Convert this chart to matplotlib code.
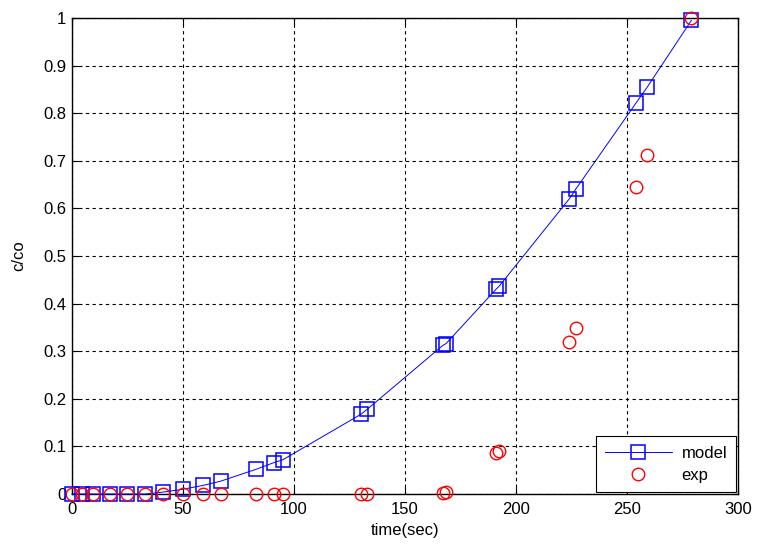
import matplotlib
matplotlib.use('Agg')
import matplotlib.pyplot as plt

# sample times (sec)
time = [0, 4.5, 9.5, 17, 25, 33, 41, 50, 59, 67, 83, 91, 95,
        130, 133, 167, 168.5, 191, 192.5, 224, 227, 254, 259, 279]

# model prediction c/co
model = [0, 0, 0, 0, 0, 0, 0.004, 0.01, 0.018, 0.027, 0.052, 0.066, 0.072,
         0.167, 0.178, 0.312, 0.316, 0.43, 0.437, 0.62, 0.641, 0.821, 0.854, 0.995]

# experimental c/co
exp = [0, 0, 0, 0, 0, 0, 0, 0, 0, 0, 0, 0, 0,
       0, 0, 0.002, 0.004, 0.086, 0.091, 0.319, 0.348, 0.645, 0.713, 0.999]

xticks = [0, 50, 100, 150, 200, 250, 300]
yticks = [0, 0.1, 0.2, 0.3, 0.4, 0.5, 0.6, 0.7, 0.8, 0.9, 1]
ytick_labels = ['0', '0.1', '0.2', '0.3', '0.4', '0.5', '0.6', '0.7', '0.8', '0.9', '1']

plt.rcParams['font.family'] = ['Liberation Sans', 'DejaVu Sans']

fig = plt.figure(figsize=(7.64, 5.53), dpi=100)
ax = fig.add_axes([0.0942, 0.1067, 0.8718, 0.8608])

ax.plot(time, model, color='#0000ff', linestyle='-', linewidth=0.7, marker='s',
        markersize=9.5, markerfacecolor='none', markeredgecolor='#0000ff',
        markeredgewidth=1.1, label='model', clip_on=False, zorder=3)
ax.plot(time, exp, color='#ff0000', linestyle='none', marker='o',
        markersize=9, markerfacecolor='none', markeredgecolor='#ff0000',
        markeredgewidth=1.0, label='exp', clip_on=False, zorder=3)

ax.set_xlim(0, 300)
ax.set_ylim(0, 1)
ax.set_xticks(xticks)
ax.set_yticks(yticks)
ax.set_yticklabels(ytick_labels)
ax.tick_params(direction='in', top=True, right=True, length=5, width=0.8,
               labelsize=12, colors='black', pad=4)
ax.tick_params(axis='x', pad=6)
ax.grid(True, color='black', linestyle=(0, (3, 3)), linewidth=0.8)
ax.set_axisbelow(True)
for s in ax.spines.values():
    s.set_linewidth(1.0)

ax.set_xlabel('time(sec)', fontsize=12, labelpad=4)
ax.set_ylabel('c/co', fontsize=12, labelpad=12)

leg = ax.legend(loc='lower right', fontsize=12, frameon=True, fancybox=False,
                edgecolor='black', framealpha=1, borderaxespad=0.1,
                handlelength=4.0, borderpad=0.55, labelspacing=0.45,
                handletextpad=0.6)
leg.get_frame().set_linewidth(0.8)

fig.savefig('out.png', dpi=100)
